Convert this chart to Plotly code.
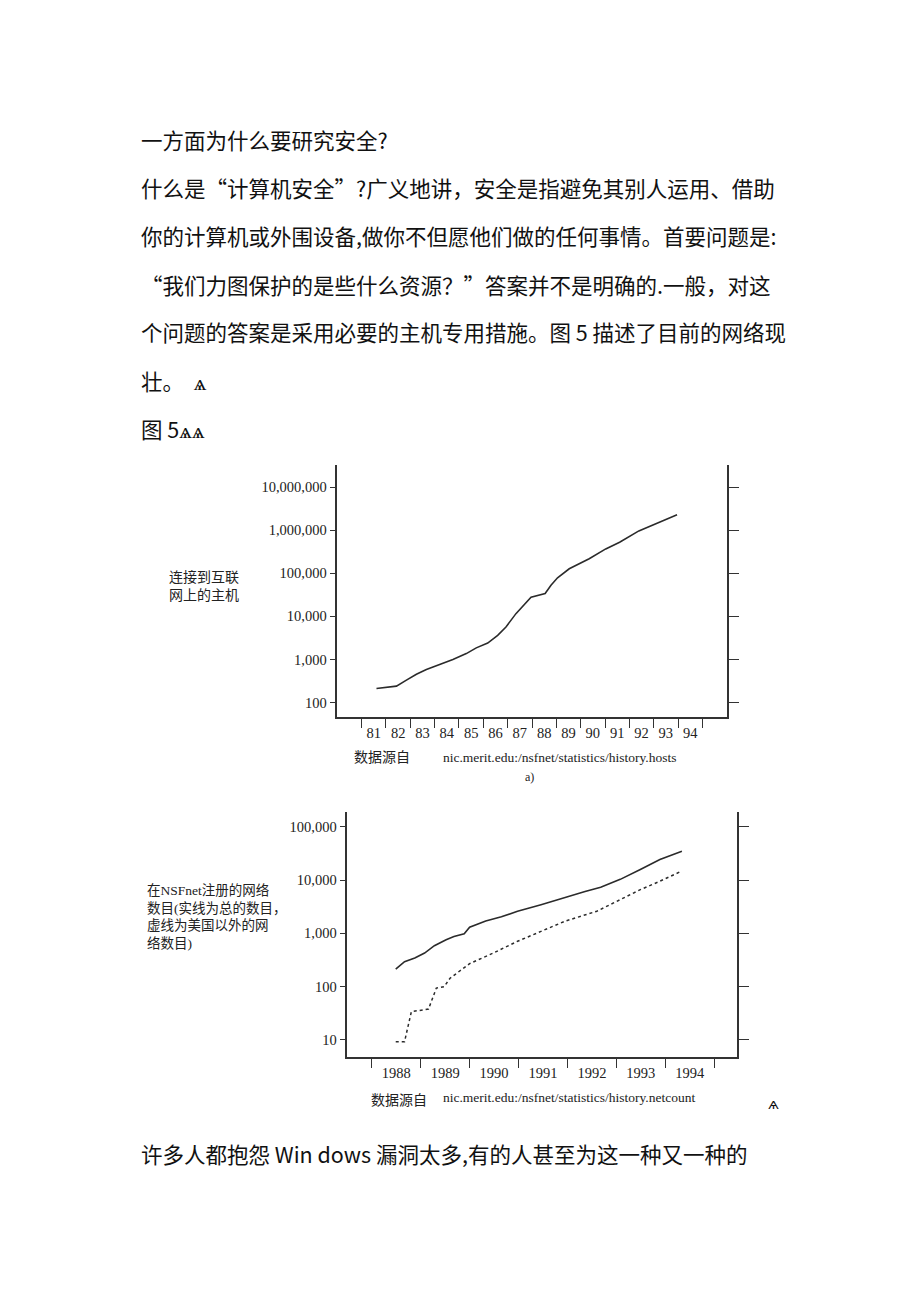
import plotly.graph_objects as go

W, H = 920, 1302

# ---- Chart a) hosts on the Internet ----
host_years = [81.61, 82.43, 82.84, 83.25, 83.66, 84.21, 84.75, 85.30, 85.71, 86.18,
              86.59, 86.93, 87.34, 87.96, 88.30, 88.54, 88.78, 89.05, 89.53, 89.94,
              90.35, 91.03, 91.60, 92.39, 93.07, 93.96]
host_counts = [211, 240, 330, 454, 582, 760, 1000, 1370, 1860, 2400,
               3620, 5690, 11600, 28000, 31000, 34000, 53000, 79000, 128000, 167000,
               219000, 370000, 530000, 970000, 1410000, 2290000]
host_tick_years = list(range(81, 96))
host_label_pos = [y + 0.5 for y in range(81, 95)]
host_labels = [str(y) for y in range(81, 95)]
host_yticks = [100, 1000, 10000, 100000, 1000000, 10000000]
host_ytext = ["100", "1,000", "10,000", "100,000", "1,000,000", "10,000,000"]

# ---- Chart b) networks registered with NSFnet ----
net_years = [1988.49, 1988.67, 1988.88, 1989.08, 1989.28, 1989.52, 1989.68, 1989.89,
             1990.00, 1990.33, 1990.65, 1990.98, 1991.46, 1991.79, 1991.95, 1992.36,
             1992.68, 1993.08, 1993.49, 1993.89, 1994.34]
net_total = [213, 295, 344, 427, 586, 760, 870, 980,
             1300, 1700, 2040, 2600, 3450, 4300, 4800, 6100,
             7300, 10300, 15800, 24300, 34700]
foreign_years = [1988.49, 1988.67, 1988.81, 1989.16, 1989.32, 1989.48, 1989.60, 1990.00,
                 1990.49, 1990.98, 1991.46, 1991.95, 1992.60, 1993.00, 1993.49, 1993.89,
                 1994.34]
foreign_counts = [9.3, 9.3, 34, 38, 94, 100, 144, 270,
                  430, 710, 1090, 1690, 2600, 4000, 6600, 9500,
                  14800]
net_tick_years = list(range(1988, 1996))
net_label_pos = [y + 0.5 for y in range(1988, 1995)]
net_labels = [str(y) for y in range(1988, 1995)]
net_yticks = [10, 100, 1000, 10000, 100000]
net_ytext = ["10", "100", "1,000", "10,000", "100,000"]

body_lines = [
    "一方面为什么要研究安全?",
    "什么是“计算机安全”?广义地讲，安全是指避免其别人运用、借助",
    "你的计算机或外围设备,做你不但愿他们做的任何事情。首要问题是:",
    "“我们力图保护的是些什么资源？”答案并不是明确的.一般，对这",
    "个问题的答案是采用必要的主机专用措施。图 5 描述了目前的网络现",
    "壮。  ѧ",
    "图 5ѧѧ",
]
last_line = "许多人都抱怨 Win dows 漏洞太多,有的人甚至为这一种又一种的"

LINE = "#2b2b2b"
AX = "#333333"
SERIF = "Liberation Serif, Noto Sans CJK SC"
BODY = "Noto Sans CJK SC"


def px(x):
    return x / W


def py(y):
    return 1 - y / H


fig = go.Figure()
fig.add_trace(go.Scatter(x=host_years, y=host_counts, mode="lines",
                         line=dict(color=LINE, width=1.6), xaxis="x", yaxis="y",
                         showlegend=False, hoverinfo="skip"))
fig.add_trace(go.Scatter(x=[], y=[], xaxis="x", yaxis="y2", showlegend=False))
fig.add_trace(go.Scatter(x=net_years, y=net_total, mode="lines",
                         line=dict(color=LINE, width=1.6), xaxis="x2", yaxis="y3",
                         showlegend=False, hoverinfo="skip"))
fig.add_trace(go.Scatter(x=foreign_years, y=foreign_counts, mode="lines",
                         line=dict(color=LINE, width=1.5, dash="dot"), xaxis="x2", yaxis="y3",
                         showlegend=False, hoverinfo="skip"))
fig.add_trace(go.Scatter(x=[], y=[], xaxis="x2", yaxis="y4", showlegend=False))

tickfont = dict(family=SERIF, size=14.5, color="#222")

common_x = dict(showline=True, linecolor=AX, linewidth=1.5, showgrid=False, zeroline=False,
                tickmode="array", ticks="outside", ticklen=2, tickcolor="rgba(0,0,0,0)",
                tickfont=tickfont)
common_y = dict(type="log", showline=True, linecolor=AX, linewidth=1.5, showgrid=False,
                zeroline=False, tickmode="array", ticks="outside", ticklen=6, tickcolor=AX,
                tickwidth=1.3, tickfont=tickfont)

fig.update_layout(
    width=W, height=H, margin=dict(l=0, r=0, t=0, b=0),
    paper_bgcolor="white", plot_bgcolor="white", showlegend=False,
    xaxis=dict(domain=[px(337.3), px(726.7)], range=[80, 96], anchor="y",
               tickvals=host_label_pos, ticktext=host_labels,
               minor=dict(tickmode="array", tickvals=host_tick_years, ticks="outside",
                          ticklen=9, tickcolor=AX, tickwidth=1.3),
               **common_x),
    yaxis=dict(domain=[py(717), py(465)], range=[1.663, 7.518], anchor="x",
               tickvals=host_yticks, ticktext=host_ytext, **common_y),
    yaxis2=dict(type="log", overlaying="y", side="right", anchor="x", range=[1.663, 7.518],
                showline=True, linecolor=AX, linewidth=1.5, showgrid=False, zeroline=False,
                tickmode="array", tickvals=host_yticks, ticks="outside", ticklen=11,
                tickcolor=AX, tickwidth=1.3, showticklabels=False),
    xaxis2=dict(domain=[px(347.3), px(736.7)], range=[1987.5, 1995.46], anchor="y3",
                tickvals=net_label_pos, ticktext=net_labels,
                minor=dict(tickmode="array", tickvals=net_tick_years, ticks="outside",
                           ticklen=9, tickcolor=AX, tickwidth=1.3),
                **common_x),
    yaxis3=dict(domain=[py(1057), py(812)], range=[0.681, 5.276], anchor="x2",
                tickvals=net_yticks, ticktext=net_ytext, **common_y),
    yaxis4=dict(type="log", overlaying="y3", side="right", anchor="x2", range=[0.681, 5.276],
                showline=True, linecolor=AX, linewidth=1.5, showgrid=False, zeroline=False,
                tickmode="array", tickvals=net_yticks, ticks="outside", ticklen=11,
                tickcolor=AX, tickwidth=1.3, showticklabels=False),
)

ann = []
body_y = [139, 187, 235, 284, 332, 380, 429]
for t, yy in zip(body_lines, body_y):
    ann.append(dict(text=t, x=px(139), y=py(yy), xref="paper", yref="paper",
                    xanchor="left", yanchor="middle", showarrow=False,
                    font=dict(family=BODY, size=21.5, color="#111")))
ann.append(dict(text=last_line, x=px(139), y=py(1153), xref="paper", yref="paper",
                xanchor="left", yanchor="middle", showarrow=False,
                font=dict(family=BODY, size=21.5, color="#111")))

small = dict(family=SERIF, size=14, color="#222")
url_font = dict(family=SERIF, size=13.5, color="#222")
ann += [
    dict(text="连接到互联<br>网上的主机", x=px(167), y=py(586), xanchor="left", yanchor="middle",
         align="left", font=small),
    dict(text="数据源自", x=px(352), y=py(757), xanchor="left", yanchor="middle", font=small),
    dict(text="nic.merit.edu:/nsfnet/statistics/history.hosts", x=px(441), y=py(757),
         xanchor="left", yanchor="middle", font=url_font),
    dict(text="a)", x=px(529), y=py(777), xanchor="center", yanchor="middle",
         font=dict(family=SERIF, size=12, color="#222")),
    dict(text="在NSFnet注册的网络<br>数目(实线为总的数目，<br>虚线为美国以外的网<br>络数目)",
         x=px(145), y=py(917), xanchor="left", yanchor="middle", align="left",
         font=dict(family=SERIF, size=13.5, color="#222")),
    dict(text="数据源自", x=px(369), y=py(1100), xanchor="left", yanchor="middle", font=small),
    dict(text="nic.merit.edu:/nsfnet/statistics/history.netcount", x=px(441), y=py(1097),
         xanchor="left", yanchor="middle", font=url_font),
    dict(text="ѧ", x=px(773), y=py(1104), xanchor="center", yanchor="middle",
         font=dict(family="DejaVu Sans", size=14, color="#111")),
]
for a in ann[len(body_lines) + 1:]:
    a.update(xref="paper", yref="paper", showarrow=False)
fig.update_layout(annotations=ann)

fig.write_html("out.html")
